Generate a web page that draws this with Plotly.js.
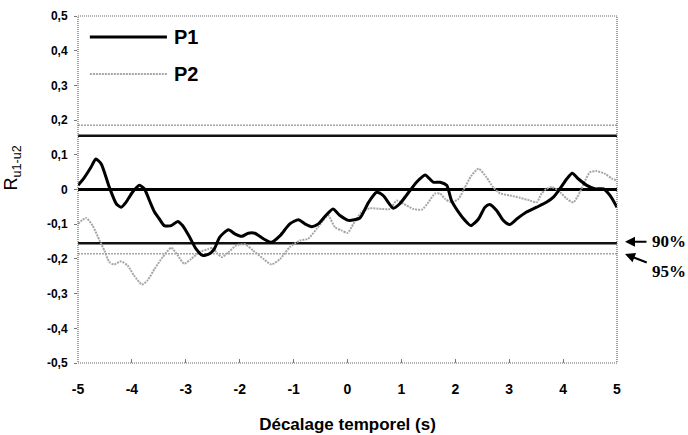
<!DOCTYPE html>
<html>
<head>
<meta charset="utf-8">
<script src="https://cdn.plot.ly/plotly-3.0.1.min.js"></script>
<style>html,body{margin:0;padding:0;background:#fff;}#chart{width:688px;height:435px;}</style>
</head>
<body>
<div id="chart"></div>
<script>
// ---- data ----
const p1X = [-5.00,-4.88,-4.76,-4.67,-4.57,-4.42,-4.29,-4.20,-4.11,-3.99,-3.86,-3.77,-3.65,-3.58,-3.49,-3.40,-3.27,-3.15,-3.06,-2.93,-2.81,-2.69,-2.56,-2.47,-2.37,-2.21,-2.09,-1.96,-1.84,-1.72,-1.56,-1.41,-1.25,-1.07,-0.91,-0.79,-0.66,-0.54,-0.42,-0.27,-0.14,0.02,0.23,0.39,0.54,0.66,0.85,0.97,1.16,1.28,1.44,1.59,1.72,1.84,1.93,2.06,2.18,2.29,2.43,2.55,2.64,2.77,2.89,3.01,3.14,3.32,3.51,3.69,3.82,3.94,4.07,4.17,4.28,4.44,4.59,4.75,4.87,5.00];
const p1Y = [0.012,0.035,0.064,0.088,0.074,0.007,-0.041,-0.051,-0.037,-0.008,0.012,0.002,-0.041,-0.065,-0.085,-0.104,-0.104,-0.092,-0.104,-0.137,-0.171,-0.190,-0.185,-0.171,-0.137,-0.116,-0.128,-0.135,-0.126,-0.126,-0.142,-0.152,-0.133,-0.099,-0.087,-0.099,-0.107,-0.099,-0.078,-0.056,-0.075,-0.089,-0.082,-0.037,-0.008,-0.017,-0.054,-0.041,-0.003,0.021,0.042,0.021,0.021,0.012,-0.032,-0.065,-0.089,-0.104,-0.085,-0.051,-0.043,-0.061,-0.089,-0.101,-0.085,-0.065,-0.051,-0.037,-0.022,0.002,0.031,0.047,0.031,0.012,0.002,0.002,-0.017,-0.051];

const p2X = [-5.00,-4.85,-4.73,-4.60,-4.51,-4.42,-4.33,-4.20,-4.08,-3.96,-3.81,-3.71,-3.58,-3.43,-3.27,-3.15,-3.03,-2.90,-2.75,-2.59,-2.50,-2.43,-2.33,-2.21,-2.06,-1.90,-1.75,-1.56,-1.41,-1.25,-1.07,-0.88,-0.73,-0.57,-0.45,-0.36,-0.23,-0.11,0.00,0.11,0.26,0.42,0.63,0.79,0.91,1.04,1.22,1.38,1.50,1.62,1.72,1.81,1.93,2.06,2.18,2.30,2.43,2.58,2.70,2.83,3.01,3.20,3.39,3.51,3.60,3.69,3.79,3.91,4.07,4.19,4.31,4.41,4.50,4.62,4.78,4.91,5.00];
const p2Y = [-0.099,-0.082,-0.104,-0.147,-0.176,-0.209,-0.216,-0.207,-0.219,-0.248,-0.274,-0.262,-0.229,-0.195,-0.168,-0.190,-0.214,-0.200,-0.181,-0.172,-0.168,-0.182,-0.195,-0.181,-0.161,-0.158,-0.176,-0.200,-0.216,-0.200,-0.166,-0.147,-0.142,-0.113,-0.089,-0.075,-0.109,-0.118,-0.125,-0.099,-0.065,-0.054,-0.056,-0.056,-0.032,-0.041,-0.056,-0.058,-0.037,-0.012,-0.012,-0.027,-0.037,-0.027,0.007,0.040,0.060,0.035,0.007,-0.011,-0.017,-0.024,-0.032,-0.037,-0.012,0.002,0.007,-0.003,-0.027,-0.037,-0.008,0.026,0.050,0.053,0.045,0.031,0.026];

const p1Threshold90 = 0.155;   // black horizontal lines
const p2Threshold95 = 0.185;   // grey horizontal lines
const xRange = [-5, 5];
const yRange = [-0.5, 0.5];

const xTickVals = [-5,-4,-3,-2,-1,0,1,2,3,4,5];
const xTickText = ['-5','-4','-3','-2','-1','0','1','2','3','4','5'];
const yTickVals = [-0.5,-0.4,-0.3,-0.2,-0.1,0,0.1,0.2,0.3,0.4,0.5];
const yTickText = ['-0,5','-0,4','-0,3','-0,2','-0,1','0','0,1','0,2','0,3','0,4','0,5'];

const seriesNames = ['P1','P2'];
const xTitle = 'Décalage temporel (s)';
const yTitle = 'R<sub>u1-u2</sub>';
const levelLabels = ['90%','95%'];

// ---- traces ----
const greyCol = '#a6a6a6';
const traces = [
  {x: xRange, y: [p2Threshold95, p2Threshold95], mode:'lines', line:{color:greyCol, width:1.5, dash:'2px,1px'}, hoverinfo:'skip', showlegend:false},
  {x: xRange, y: [-p2Threshold95, -p2Threshold95], mode:'lines', line:{color:greyCol, width:1.5, dash:'2px,1px'}, hoverinfo:'skip', showlegend:false},
  {x: xRange, y: [p1Threshold90, p1Threshold90], mode:'lines', line:{color:'#111', width:2.5}, hoverinfo:'skip', showlegend:false},
  {x: xRange, y: [-p1Threshold90, -p1Threshold90], mode:'lines', line:{color:'#111', width:2.5}, hoverinfo:'skip', showlegend:false},
  {x: xRange, y: [0, 0], mode:'lines', line:{color:'#000', width:3}, hoverinfo:'skip', showlegend:false},
  {x: p2X, y: p2Y, name: seriesNames[1], mode:'lines', line:{color:greyCol, width:2, dash:'2px,1px', shape:'spline', smoothing:0.6}, showlegend:false},
  {x: p1X, y: p1Y, name: seriesNames[0], mode:'lines', line:{color:'#000', width:3, shape:'spline', smoothing:0.6}, showlegend:false}
];

const boldFont = {family:'Liberation Sans, Arial, sans-serif', color:'#000', weight:'bold'};
const serifBold = {family:'Liberation Serif, Times New Roman, serif', size:17, color:'#000', weight:'bold'};

const layout = {
  width: 688, height: 435,
  margin: {l:78, r:71, t:16, b:72, pad:0},
  paper_bgcolor:'#fff', plot_bgcolor:'#fff',
  showlegend:false,
  xaxis: {
    range: xRange, tickvals: xTickVals, ticktext: xTickText,
    showgrid:false, zeroline:false, showline:false,
    ticks:'inside', ticklen:4, tickcolor:'#777', tickwidth:1,
    ticklabelstandoff: 16,
    tickfont: Object.assign({size:14}, boldFont),
    title: {text: xTitle, font: Object.assign({size:17}, boldFont), standoff: 22}
  },
  yaxis: {
    range: yRange, tickvals: yTickVals, ticktext: yTickText,
    showgrid:false, zeroline:false, showline:false,
    ticks:'outside', ticklen:3, tickcolor:'#777', tickwidth:1,
    ticklabelstandoff: 4,
    tickfont: Object.assign({size:12}, boldFont)
  },
  shapes: [
    {type:'rect', xref:'paper', yref:'paper', x0:0, x1:1, y0:0, y1:1, line:{color:'#666', width:1.2, dash:'1px,1px'}},
    // legend samples
    {type:'line', xref:'paper', yref:'paper', x0:0.022, x1:0.165, y0:0.9395, y1:0.9395, line:{color:'#000', width:3}},
    {type:'line', xref:'paper', yref:'paper', x0:0.022, x1:0.165, y0:0.833, y1:0.833, line:{color:greyCol, width:2, dash:'2px,1px'}}
  ],
  annotations: [
    {xref:'paper', yref:'paper', x:-0.1197, y:0.562, xanchor:'center', yanchor:'middle', textangle:-90, text:yTitle, showarrow:false, font:{family:'Liberation Sans, Arial, sans-serif', size:18, color:'#000'}},
    {xref:'paper', yref:'paper', x:0.174, y:0.9395, xanchor:'left', yanchor:'middle', text:seriesNames[0], showarrow:false, font:Object.assign({size:20}, boldFont)},
    {xref:'paper', yref:'paper', x:0.174, y:0.833, xanchor:'left', yanchor:'middle', text:seriesNames[1], showarrow:false, font:Object.assign({size:20}, boldFont)},
    {xref:'paper', yref:'paper', x:1.0148, y:0.3496, ax:44, ay:0, axref:'pixel', ayref:'pixel', text:levelLabels[0], showarrow:true, arrowhead:2, arrowsize:1, arrowwidth:2, arrowcolor:'#000', startstandoff:4, font:serifBold},
    {xref:'paper', yref:'paper', x:1.0148, y:0.314, ax:44, ay:17, axref:'pixel', ayref:'pixel', text:levelLabels[1], showarrow:true, arrowhead:2, arrowsize:1, arrowwidth:2, arrowcolor:'#000', startstandoff:4, font:serifBold}
  ]
};

Plotly.newPlot('chart', traces, layout, {staticPlot:true, displayModeBar:false});
</script>
</body>
</html>
